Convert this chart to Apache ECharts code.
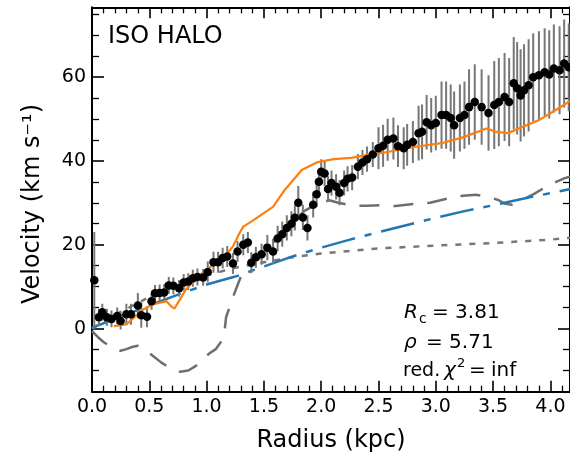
<!DOCTYPE html>
<html><head><meta charset="utf-8">
<script src="https://cdn.jsdelivr.net/npm/echarts@6/dist/echarts.min.js"></script>
<style>html,body{margin:0;padding:0;background:#fff}#c{width:570px;height:454px}</style>
</head><body><div id="c"></div>
<script>
// ---- observed rotation curve ----
const radius = [0.02,0.06,0.09,0.13,0.17,0.22,0.25,0.30,0.34,0.40,0.43,0.48,0.52,0.55,0.59,0.63,0.67,0.71,0.76,0.80,0.84,0.88,0.92,0.97,1.01,1.06,1.10,1.14,1.18,1.23,1.27,1.32,1.36,1.39,1.43,1.48,1.53,1.58,1.62,1.66,1.70,1.74,1.77,1.80,1.84,1.88,1.93,1.96,1.98,2.00,2.03,2.06,2.09,2.13,2.16,2.20,2.23,2.27,2.32,2.36,2.40,2.45,2.50,2.54,2.58,2.63,2.67,2.72,2.75,2.80,2.85,2.88,2.92,2.96,3.00,3.05,3.09,3.13,3.16,3.21,3.25,3.29,3.34,3.40,3.46,3.51,3.55,3.60,3.64,3.68,3.71,3.74,3.77,3.81,3.85,3.90,3.95,3.99,4.03,4.08,4.12,4.16];
const velocity = [11.5,2.7,3.9,2.7,2.3,3.0,1.8,3.4,3.4,5.5,3.2,2.8,6.5,8.4,8.5,8.6,10.3,10.2,9.6,11.0,11.2,12.0,12.3,12.2,13.5,15.8,15.8,16.8,17.2,15.5,18.4,20.0,20.5,15.7,17.0,17.7,19.3,18.4,21.5,22.5,24.0,25.0,26.4,30.0,26.5,24.0,29.5,32.0,35.0,37.4,37.0,33.3,34.7,33.8,32.4,34.7,35.7,36.0,38.6,39.6,40.4,41.5,43.0,43.6,45.0,45.3,43.5,43.0,43.8,44.5,46.6,46.9,49.2,48.5,49.0,50.9,50.9,50.2,48.5,50.2,50.9,52.8,54.0,52.8,51.4,53.3,54.0,55.2,54.0,58.5,57.3,55.6,56.8,58.0,59.9,60.4,61.1,60.6,62.0,61.6,63.2,62.3];
const velocityErr = [11.5,2,2,2,2,2,2,2.5,2.5,3,3,2.5,2,2,2,2,2,2,2,2,2,2,2,2,2.5,2.5,2.5,2.5,2.5,2.5,2.5,2.5,2.5,2.5,2.5,2.5,3,3,3,3,3,3,3,4,3,3,3,3,3,3,3,3,3,3,3,3,3,3,3,3,3,3,5,5,5,5,5,5,5,5,6.5,6.5,6.5,6.5,6.5,8,8,8,8,8,8,9,9,9,9,10.5,10.5,10.5,10.5,11,11,11,11,11,10.5,10.5,10.5,10.5,10.5,10.5,10.5,10.5];
// ---- total model (orange) ----
const modelR = [0.19,0.30,0.45,0.53,0.65,0.69,0.72,0.78,0.82,0.93,1.08,1.17,1.23,1.29,1.32,1.39,1.54,1.58,1.68,1.83,1.97,2.11,2.26,2.41,2.58,2.81,3.05,3.25,3.44,3.53,3.63,3.75,3.90,4.04,4.18];
const modelV = [0.6,1.0,4.6,5.8,6.5,5.3,4.8,7.5,9.4,12.5,15.7,17.6,19.6,22.9,24.3,25.5,28.3,29.0,33.0,37.8,39.7,40.4,40.7,41.4,42.1,43.3,44.2,45.7,47.7,46.9,46.6,48.0,49.7,52.0,54.4];
// ---- ISO halo (blue dash-dot) ----
const haloR = [0,0.2,0.5,0.75,1.0,1.25,1.5,1.75,2.0,2.25,2.5,2.75,3.0,3.25,3.5,3.75,4.0,4.18];
const haloV = [0.2,2.3,5.5,8.1,10.5,12.4,14.8,17.2,19.3,21.2,23.0,24.7,26.4,28.0,29.4,30.9,32.3,33.3];
// ---- stellar disk (grey dotted) ----
const diskR = [0,0.25,0.5,0.75,1.0,1.25,1.5,1.75,2.0,2.5,3.0,3.5,4.0,4.18];
const diskV = [0,4,7.5,10.5,12.7,14.5,15.8,17,17.9,19.1,19.8,20.4,21.2,21.7];
// ---- gas (grey dashed) ----
const gasR = [0.0,0.05,0.10,0.15,0.20,0.25,0.30,0.35,0.40,0.46,0.53,0.60,0.69,0.77,0.84,0.90,0.95,1.02,1.08,1.15,1.17,1.23,1.30,1.40,1.50,1.60,1.70,1.85,1.95,2.07,2.15,2.28,2.40,2.52,2.65,2.80,2.95,3.10,3.20,3.35,3.45,3.55,3.60,3.66,3.75,3.85,3.95,4.05,4.12,4.18];
const gasV = [-0.6,-2.0,-3.2,-4.1,-4.9,-5.3,-4.9,-4.4,-4.1,-5.0,-6.5,-8.0,-9.6,-10.3,-10.0,-9.0,-8.0,-6.0,-4.9,-2.2,2.7,7.5,12.5,15.5,17.7,21.0,24.0,28.0,29.5,30.6,30.0,29.3,29.3,29.4,29.2,29.7,30.0,31.0,31.6,31.9,31.5,30.6,29.8,29.5,30.6,32.0,33.6,35.0,35.8,36.3];
// ---- ticks ----
const xMajorTicks = [0,0.5,1.0,1.5,2.0,2.5,3.0,3.5,4.0];
const xMinorTicks = [0.1,0.2,0.3,0.4,0.6,0.7,0.8,0.9,1.1,1.2,1.3,1.4,1.6,1.7,1.8,1.9,2.1,2.2,2.3,2.4,2.6,2.7,2.8,2.9,3.1,3.2,3.3,3.4,3.6,3.7,3.8,3.9,4.1];
const yMajorTicks = [0,20,40,60];
const yMinorTicks = [-10,-5,5,10,15,25,30,35,45,50,55,65,70,75];

const XMIN = 0, XMAX = 4.171, YMIN = -15.05, YMAX = 76.6;
const FONT = 'DejaVu Sans';

function xAx(pos, ticks, len, labels, line) {
  return {type:'value', position:pos, min:XMIN, max:XMAX,
    axisLine:{show:line, onZero:false, lineStyle:{color:'#000', width:2}},
    axisTick:{show:true, inside:true, length:len, customValues:ticks, lineStyle:{color:'#000', width:len>8?1.6:1.3}},
    axisLabel:labels?{show:true, customValues:ticks, formatter:v=>v.toFixed(1), margin:6, fontSize:19, color:'#000', fontFamily:FONT}:{show:false},
    splitLine:{show:false}, minorTick:{show:false}};
}
function yAx(pos, ticks, len, labels, line) {
  return {type:'value', position:pos, min:YMIN, max:YMAX,
    axisLine:{show:line, onZero:false, lineStyle:{color:'#000', width:2}},
    axisTick:{show:true, inside:true, length:len, customValues:ticks, lineStyle:{color:'#000', width:len>8?1.6:1.3}},
    axisLabel:labels?{show:true, customValues:ticks, formatter:v=>String(v), margin:6, fontSize:19, color:'#000', fontFamily:FONT}:{show:false},
    splitLine:{show:false}, minorTick:{show:false}};
}
const pairs = (a,b)=>a.map((v,i)=>[v,b[i]]);

const chart = echarts.init(document.getElementById('c'), null, {renderer:'canvas'});
const txt = (text, x, y, size, extra) => Object.assign({type:'text', x, y, z:100, style:Object.assign({text, fontSize:size, fontFamily:FONT, fill:'#000', align:'left', verticalAlign:'middle'}, (extra&&extra.style)||{})}, (extra&&extra.el)||{});
chart.setOption({
  animation:false,
  backgroundColor:'#fff',
  grid:{left:92, right:0, top:7.3, bottom:62.3, outerBoundsMode:'none', containLabel:false},
  xAxis:[xAx('bottom', xMajorTicks, 11, true, true), xAx('bottom', xMinorTicks, 6, false, false),
         xAx('top', xMajorTicks, 11, false, true), xAx('top', xMinorTicks, 6, false, false)],
  yAxis:[yAx('left', yMajorTicks, 12, true, true), yAx('left', yMinorTicks, 7, false, false),
         yAx('right', yMajorTicks, 12, false, true), yAx('right', yMinorTicks, 7, false, false)],
  series:[
    {type:'line', name:'disk', data:pairs(diskR, diskV), symbol:'none', clip:true, z:2,
     lineStyle:{color:'#777', width:2.5, type:[6,8]}},
    {type:'line', name:'gas', data:pairs(gasR, gasV), symbol:'none', clip:true, z:2,
     lineStyle:{color:'#6e6e6e', width:2.5, type:[20,14]}},
    {type:'line', name:'halo', data:pairs(haloR, haloV), symbol:'none', clip:true, z:2,
     lineStyle:{color:'#1f77b4', width:2.5, type:[34,10,7,10]}},
    {type:'custom', name:'err', data:radius.map((r,i)=>[r, velocity[i]-velocityErr[i], velocity[i]+velocityErr[i]]),
     clip:true, z:3,
     renderItem:(params, api)=>{
       const p1 = api.coord([api.value(0), api.value(1)]);
       const p2 = api.coord([api.value(0), api.value(2)]);
       return {type:'line', shape:{x1:p1[0], y1:p1[1], x2:p2[0], y2:p2[1]}, style:{stroke:'#777', lineWidth:2}};
     }},
    {type:'line', name:'model', data:pairs(modelR, modelV), symbol:'none', clip:true, z:4,
     lineStyle:{color:'#ff7f0e', width:2.2}},
    {type:'scatter', name:'obs', data:pairs(radius, velocity), symbol:'circle', symbolSize:8.5, clip:true, z:5,
     itemStyle:{color:'#000', opacity:1}}
  ],
  graphic:[
    txt('ISO HALO', 108, 37, 24),
    txt('Velocity (km s\u207B\u00B9)', 33, 204, 24, {style:{align:'center'}, el:{rotation:Math.PI/2}}),
    txt('Radius (kpc)', 331, 441, 24, {style:{align:'center'}}),
    txt('R', 404, 313, 20, {style:{fontStyle:'italic'}}),
    txt('c', 419, 319, 14),
    txt('= 3.81', 432, 313, 20),
    txt('\u03C1', 404, 343, 20, {style:{fontStyle:'italic'}}),
    txt('= 5.71', 426, 343, 20),
    txt('red.', 403, 371, 19),
    txt('\u03C7', 444, 371, 20, {style:{fontStyle:'italic'}}),
    txt('2', 457, 364, 13),
    txt('=', 469, 371, 20),
    txt('inf', 491, 371, 20)
  ]
});
</script></body></html>
